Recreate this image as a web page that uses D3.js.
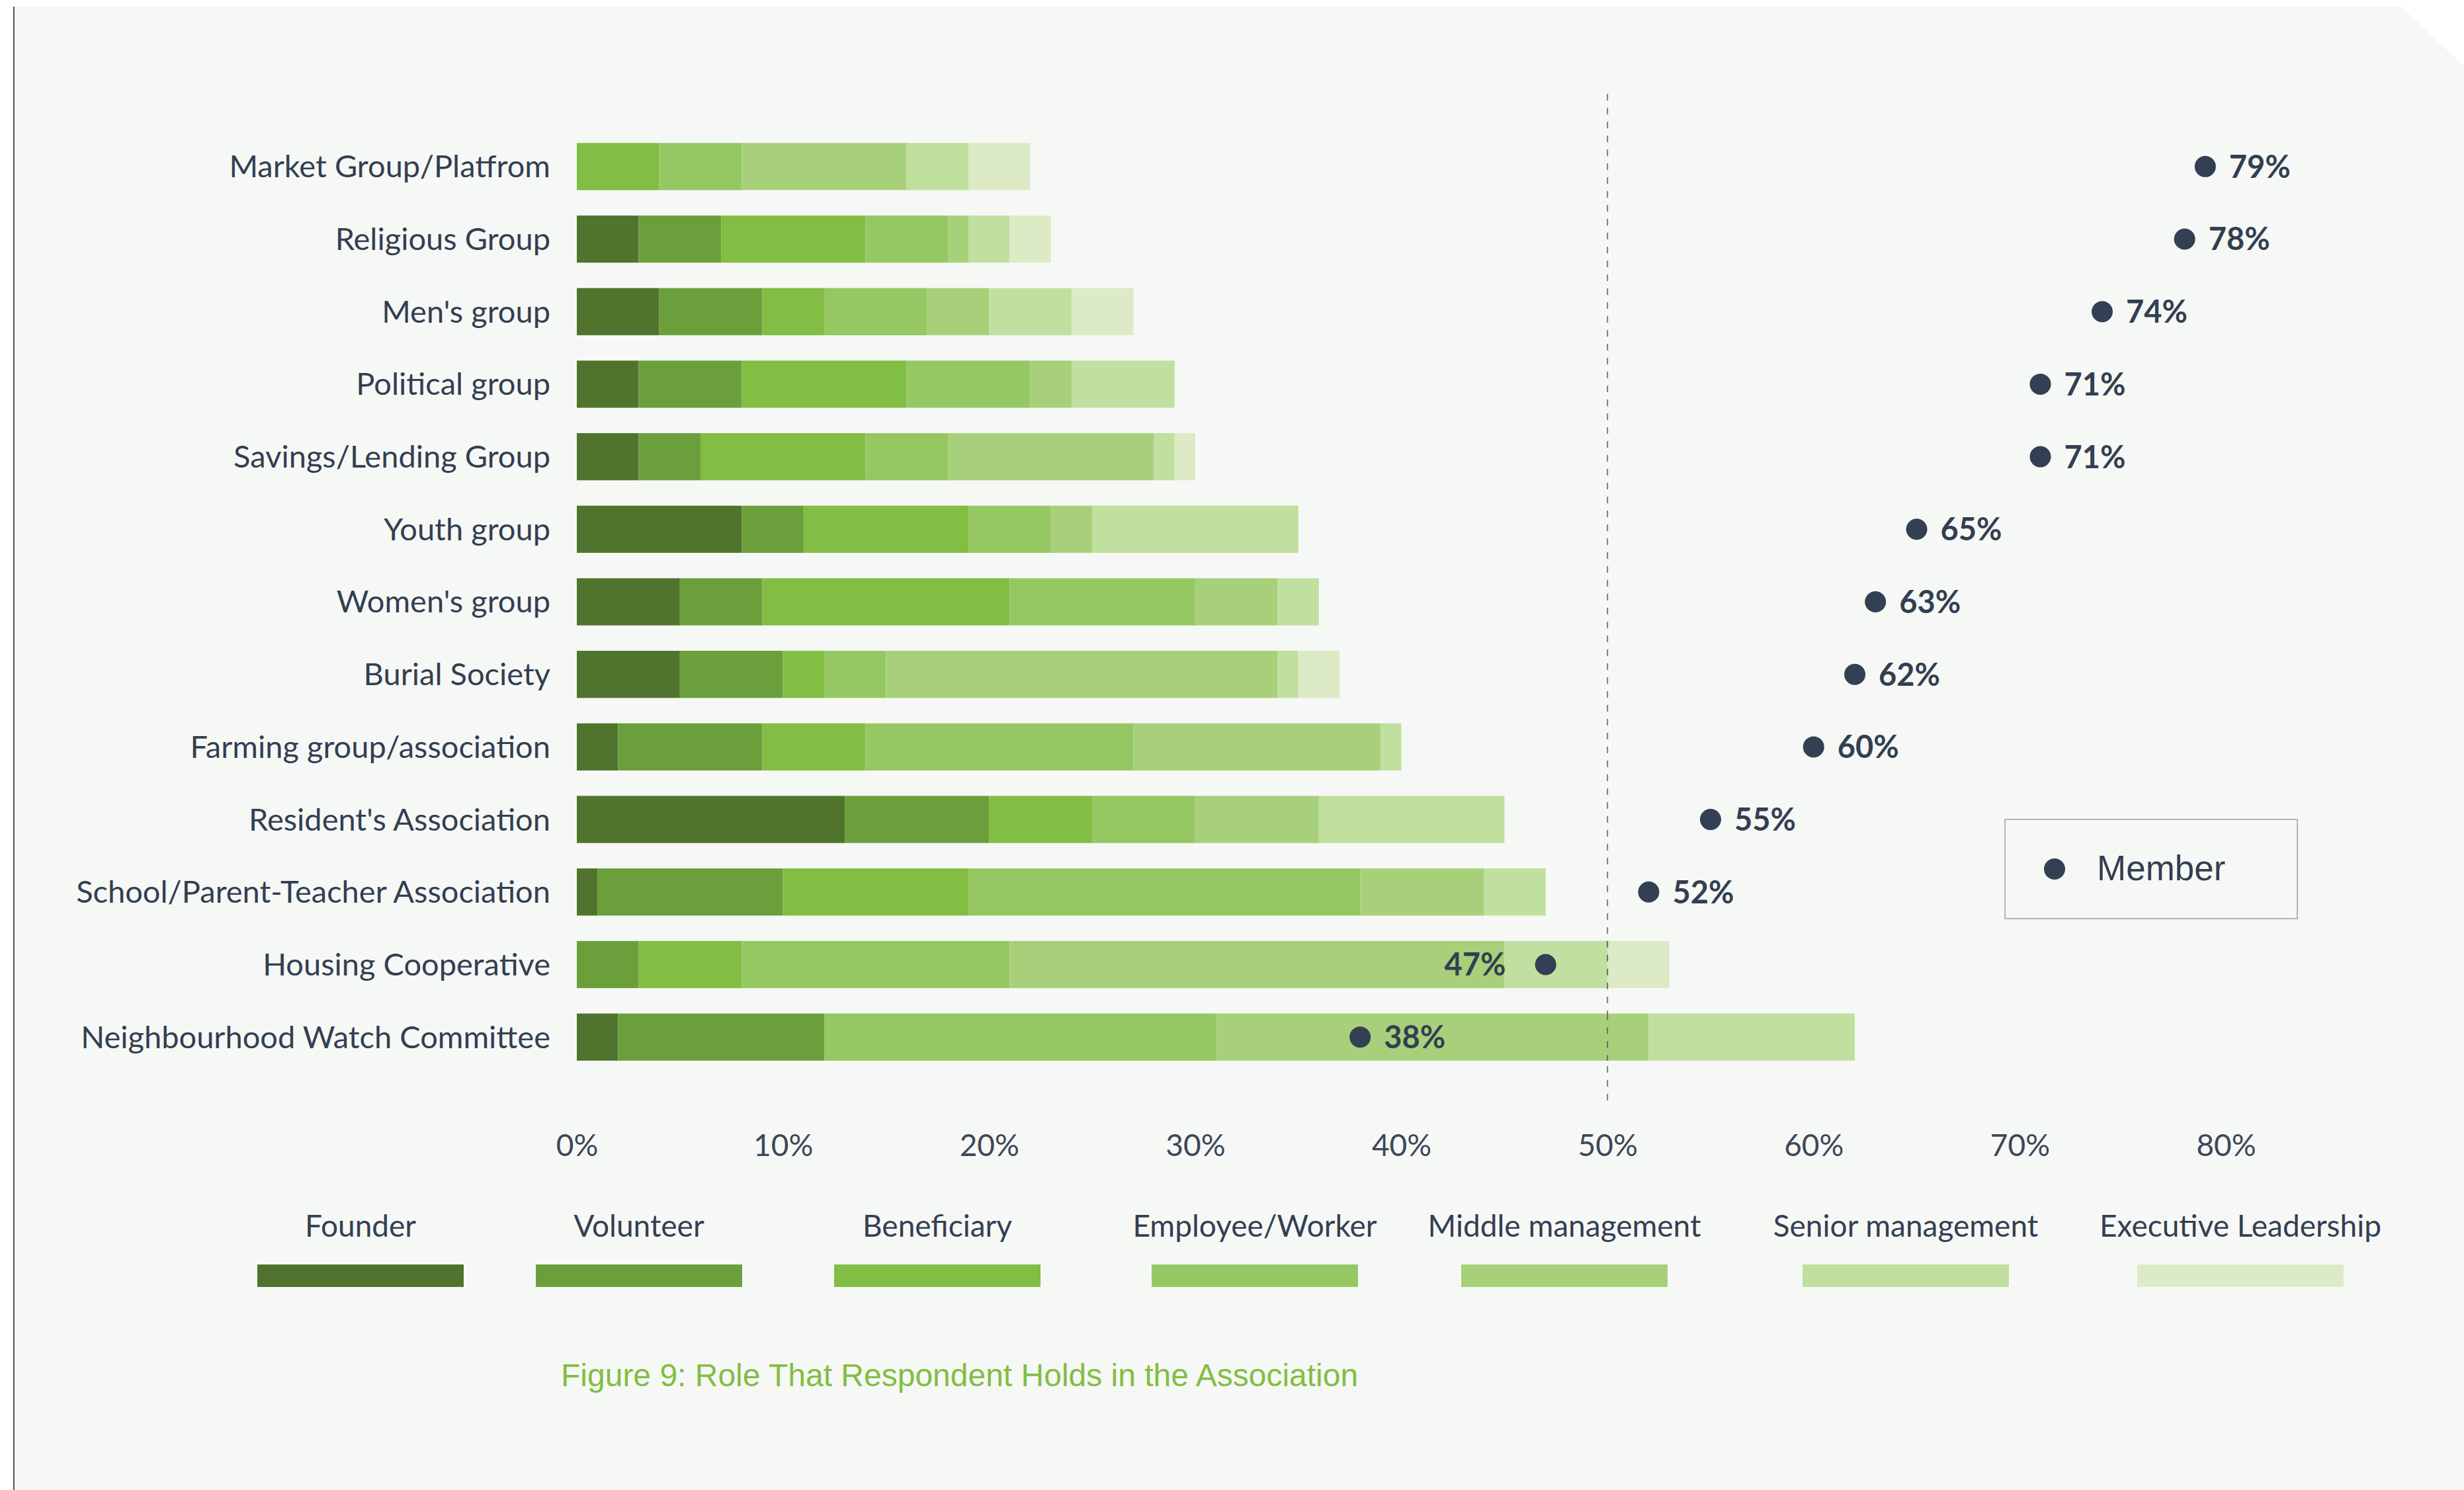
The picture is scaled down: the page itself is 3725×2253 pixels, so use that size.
<!DOCTYPE html>
<html>
<head>
<meta charset="utf-8">
<script src="https://cdn.jsdelivr.net/npm/d3@7"></script>
<style>
  html, body { margin: 0; padding: 0; background: #ffffff; }
  svg { display: block; }
</style>
</head>
<body>
<svg id="chart" width="3725" height="2253"></svg>
<script>
// Associations, top to bottom
const categories = [
  "Market Group/Platfrom",
  "Religious Group",
  "Men's group",
  "Political group",
  "Savings/Lending Group",
  "Youth group",
  "Women's group",
  "Burial Society",
  "Farming group/association",
  "Resident's Association",
  "School/Parent-Teacher Association",
  "Housing Cooperative",
  "Neighbourhood Watch Committee"
];

const roles = ["Founder", "Volunteer", "Beneficiary", "Employee/Worker",
               "Middle management", "Senior management", "Executive Leadership"];

// Share of respondents (%) holding each role, per association
const founder     = [0, 3, 4, 3, 3, 8, 5, 5, 2, 13, 1, 0, 2];
const volunteer   = [0, 4, 5, 5, 3, 3, 4, 5, 7, 7, 9, 3, 10];
const beneficiary = [4, 7, 3, 8, 8, 8, 12, 2, 5, 5, 9, 5, 0];
const employee    = [4, 4, 5, 6, 4, 4, 9, 3, 13, 5, 19, 13, 19];
const middleMgmt  = [8, 1, 3, 2, 10, 2, 4, 19, 12, 6, 6, 24, 21];
const seniorMgmt  = [3, 2, 4, 5, 1, 10, 2, 1, 1, 9, 3, 5, 10];
const execLead    = [3, 2, 3, 0, 1, 0, 0, 2, 0, 0, 0, 3, 0];

// Share of respondents who are members (%)
const member = [79, 78, 74, 71, 71, 65, 63, 62, 60, 55, 52, 47, 38];

const xTicks = [0, 10, 20, 30, 40, 50, 60, 70, 80];

const roleColors = ["#50742e", "#6b9f3b", "#82bd44", "#95c862",
                    "#a8d07b", "#c1df9f", "#dcebc6"];

const series = [founder, volunteer, beneficiary, employee, middleMgmt, seniorMgmt, execLead];

// Horizontal centres of the legend entries
const legendCenters = [545, 966, 1417, 1897, 2365, 2881, 3387];

const svg = d3.select("#chart");
const textColor = "#333f52";
const labelFont = "Lato, 'Open Sans', sans-serif";

// Panel with a clipped top-right corner
svg.append("path")
  .attr("d", "M21,10 L3630,10 L3725,100 L3725,2253 L21,2253 Z")
  .attr("fill", "#f6f8f5");
svg.append("line")
  .attr("x1", 21).attr("x2", 21).attr("y1", 10).attr("y2", 2253)
  .attr("stroke", "#4b566d").attr("stroke-width", 2);

const x = d3.scaleLinear().domain([0, 80]).range([872, 3365]);
const y = d3.scaleBand().domain(categories)
  .range([197, 1623]).paddingInner(0.35).paddingOuter(0.175);

// Stack the role shares
const rows = categories.map((c, i) => {
  const r = { category: c };
  roles.forEach((role, k) => { r[role] = series[k][i]; });
  return r;
});
const stacked = d3.stack().keys(roles)(rows);
const color = d3.scaleOrdinal().domain(roles).range(roleColors);

// 50% reference line
svg.append("line")
  .attr("x1", x(50)).attr("x2", x(50))
  .attr("y1", 142).attr("y2", 1665)
  .attr("stroke", "#7d7d7d").attr("stroke-width", 2)
  .attr("stroke-dasharray", "10,11");

const barsG = svg.append("g");
barsG.selectAll("g.layer")
  .data(stacked)
  .join("g")
  .attr("class", "layer")
  .attr("fill", d => color(d.key))
  .selectAll("rect")
  .data(d => d.filter(s => s[1] - s[0] > 0))
  .join("rect")
  .attr("x", d => x(d[0]))
  .attr("width", d => x(d[1]) - x(d[0]))
  .attr("y", d => y(d.data.category))
  .attr("height", y.bandwidth());

// Keep the dashed line visible where bars cross 50%
[11, 12].forEach(i => {
  svg.append("line")
    .attr("x1", x(50)).attr("x2", x(50))
    .attr("y1", y(categories[i])).attr("y2", y(categories[i]) + y.bandwidth())
    .attr("stroke", "#6a6a6a").attr("stroke-width", 2)
    .attr("stroke-dasharray", "10,11");
});

// Category labels
const yAxis = d3.axisLeft(y).tickSize(0).tickPadding(40);
const yG = svg.append("g").attr("transform", `translate(${x(0)},0)`).call(yAxis);
yG.select(".domain").remove();
yG.selectAll("text")
  .attr("font-family", labelFont)
  .attr("font-size", 47)
  .attr("fill", textColor)
  .attr("dy", "0.35em");

// Percentage axis
const xAxis = d3.axisBottom(x).tickValues(xTicks).tickFormat(d => d + "%").tickSize(0).tickPadding(0);
const xG = svg.append("g").attr("transform", "translate(0,1748)").call(xAxis);
xG.select(".domain").remove();
xG.selectAll("text")
  .attr("font-family", labelFont)
  .attr("font-size", 46)
  .attr("fill", "#3d4759")
  .attr("dy", 0);

// Member markers and value labels
const dots = svg.append("g");
dots.selectAll("circle")
  .data(member)
  .join("circle")
  .attr("cx", d => x(d))
  .attr("cy", (d, i) => y(categories[i]) + y.bandwidth() / 2)
  .attr("r", 16)
  .attr("fill", "#333f52");
dots.selectAll("text")
  .data(member)
  .join("text")
  .attr("x", (d, i) => i === 11 ? x(d) - 60 : x(d) + 36)
  .attr("y", (d, i) => y(categories[i]) + y.bandwidth() / 2)
  .attr("dy", "0.36em")
  .attr("text-anchor", (d, i) => i === 11 ? "end" : "start")
  .attr("font-family", labelFont)
  .attr("font-weight", 700)
  .attr("font-size", 47)
  .attr("fill", textColor)
  .text(d => d + "%");

// Role legend
const legend = svg.append("g");
roles.forEach((role, k) => {
  const cx = legendCenters[k];
  legend.append("text")
    .attr("x", cx).attr("y", 1870)
    .attr("text-anchor", "middle")
    .attr("font-family", labelFont)
    .attr("font-size", 46)
    .attr("fill", textColor)
    .text(role);
  legend.append("rect")
    .attr("x", cx - 156).attr("y", 1912)
    .attr("width", 312).attr("height", 34)
    .attr("fill", roleColors[k]);
});

// Member legend
const mLeg = svg.append("g");
mLeg.append("rect")
  .attr("x", 3031).attr("y", 1239).attr("width", 442).attr("height", 150)
  .attr("fill", "none").attr("stroke", "#b4b6b4").attr("stroke-width", 2);
mLeg.append("circle").attr("cx", 3106).attr("cy", 1314).attr("r", 16).attr("fill", "#333f52");
mLeg.append("text")
  .attr("x", 3170).attr("y", 1331)
  .attr("font-family", "'Liberation Sans', Arial, sans-serif")
  .attr("font-size", 53)
  .attr("fill", textColor)
  .text("Member");

// Caption
svg.append("text")
  .attr("x", 848).attr("y", 2096)
  .attr("font-family", "'Liberation Sans', Arial, sans-serif")
  .attr("font-size", 48)
  .attr("fill", "#82bd44")
  .text("Figure 9: Role That Respondent Holds in the Association");
</script>
</body>
</html>
